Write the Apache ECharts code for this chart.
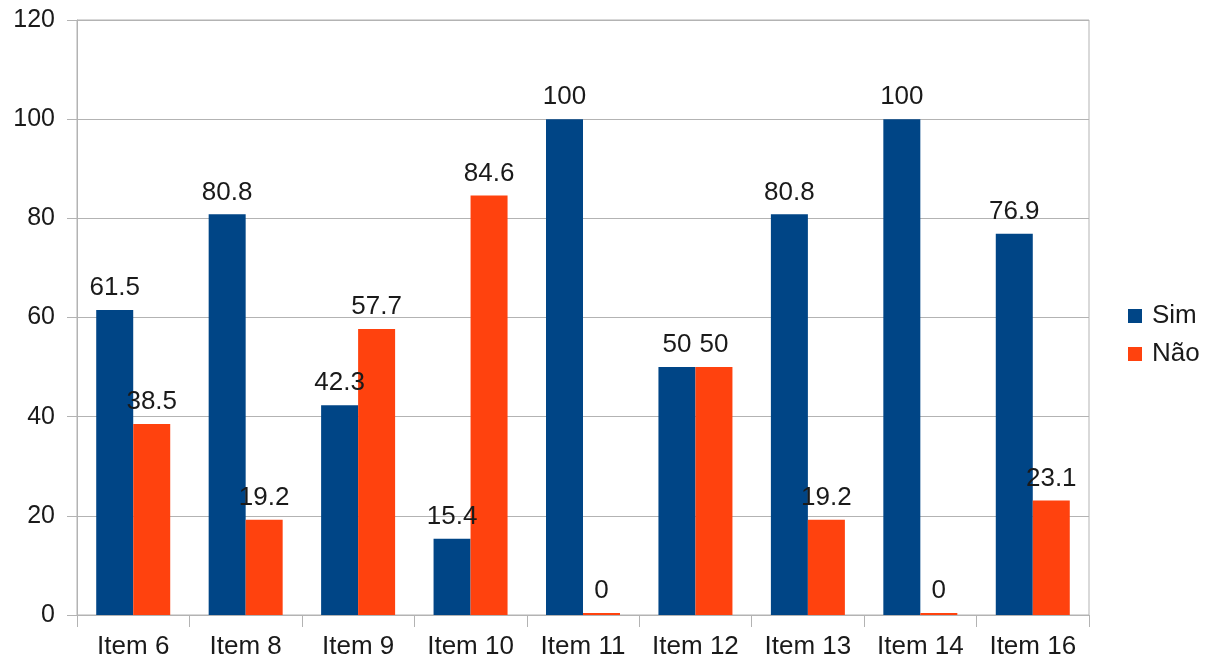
<!DOCTYPE html>
<html>
<head>
<meta charset="utf-8">
<script src="https://cdn.jsdelivr.net/npm/echarts@6/dist/echarts.min.js"></script>
<style>html,body{margin:0;padding:0;background:#fff}#c{width:1206px;height:662px}</style>
</head>
<body>
<div id="c"></div>
<script>
const categories = ["Item 6","Item 8","Item 9","Item 10","Item 11","Item 12","Item 13","Item 14","Item 16"];
const simValues = [61.5, 80.8, 42.3, 15.4, 100, 50, 80.8, 100, 76.9];
const naoValues = [38.5, 19.2, 57.7, 84.6, 0, 50, 19.2, 0, 23.1];
const seriesNames = ["Sim", "Não"];
const yTicks = {min: 0, max: 120, interval: 20};

const chart = echarts.init(document.getElementById('c'), null, {renderer: 'canvas'});
const font = 'Liberation Sans, Arial, sans-serif';
const gridColor = '#b3b3b3';
const txt = '#1a1a1a';
const labelStyle = {show: true, position: 'top', distance: 9, color: txt, fontSize: 26, fontFamily: font};
chart.setOption({
  animation: false,
  grid: {left: 77, right: 117, top: 20, bottom: 47, show: true, borderColor: gridColor, borderWidth: 1, containLabel: false},
  legend: {
    orient: 'vertical', left: 1123, top: 298, itemWidth: 14, itemHeight: 14, itemGap: 12,
    icon: 'rect',
    textStyle: {fontSize: 26, lineHeight: 26, fontFamily: font, color: txt, padding: [0,0,0,5]},
    data: seriesNames
  },
  xAxis: {
    type: 'category', data: categories,
    axisLine: {lineStyle: {color: gridColor, width: 1}},
    axisTick: {show: true, length: 12, interval: 0, alignWithLabel: false, lineStyle: {color: gridColor}},
    axisLabel: {interval: 0, fontSize: 26, fontFamily: font, color: txt, margin: 19}
  },
  yAxis: {
    type: 'value', min: yTicks.min, max: yTicks.max, interval: yTicks.interval,
    axisLine: {show: true, lineStyle: {color: gridColor, width: 1}},
    axisTick: {show: true, length: 10, lineStyle: {color: gridColor}},
    splitLine: {lineStyle: {color: gridColor, width: 1}},
    axisLabel: {fontSize: 25, fontFamily: font, color: txt, margin: 22}
  },
  series: [
    {name: seriesNames[0], type: 'bar', data: simValues, barWidth: 37, barGap: '0%', itemStyle: {color: '#004586'}, label: labelStyle, barMinHeight: 2},
    {name: seriesNames[1], type: 'bar', data: naoValues, barWidth: 37, barGap: '0%', itemStyle: {color: '#ff420e'}, label: labelStyle, barMinHeight: 2}
  ]
});
</script>
</body>
</html>
